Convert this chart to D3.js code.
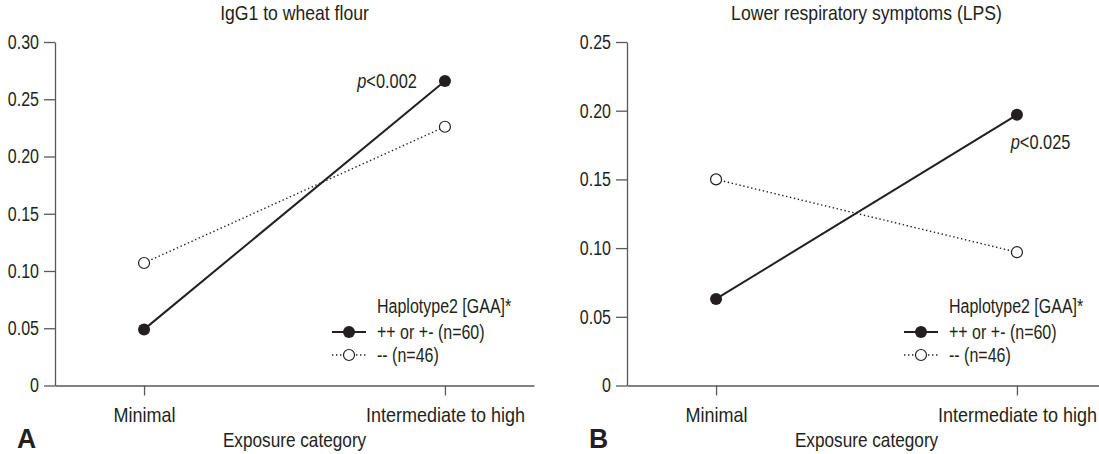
<!DOCTYPE html>
<html>
<head>
<meta charset="utf-8">
<script src="https://cdn.jsdelivr.net/npm/d3@7"></script>
<style>
  body { margin: 0; background: #fff; }
  svg text { font-family: "Liberation Sans", Arial, sans-serif; fill: #231f20; transform-box: fill-box; }
</style>
</head>
<body>
<svg id="chart" width="1099" height="454"></svg>
<script>
// exposure categories on x
const categories = ['Minimal', 'Intermediate to high']

// panel A: IgG1 to wheat flour
const igg1Hetero = [0.049, 0.266]   // ++ or +- (n=60)
const igg1Homo = [0.107, 0.226]     // -- (n=46)
const igg1Ticks = [0, 0.05, 0.10, 0.15, 0.20, 0.25, 0.30]

// panel B: lower respiratory symptoms
const lpsHetero = [0.063, 0.197]
const lpsHomo = [0.150, 0.097]
const lpsTicks = [0, 0.05, 0.10, 0.15, 0.20, 0.25]

const seriesNames = ['++ or +- (n=60)', '-- (n=46)']
const legendTitle = 'Haplotype2 [GAA]*'

const panels = [
  { letter: 'A', title: 'IgG1 to wheat flour', left: 55, hetero: igg1Hetero, homo: igg1Homo, ticks: igg1Ticks, pval: 'p<0.002' },
  { letter: 'B', title: 'Lower respiratory symptoms (LPS)', left: 627, hetero: lpsHetero, homo: lpsHomo, ticks: lpsTicks, pval: 'p<0.025' }
]

const svg = d3.select('#chart')
const plotTop = 42, plotBottom = 385.5, plotWidth = 479
const axisColor = '#58595b'
const ink = '#231f20'

// horizontal squeeze per kind of text, to mimic the condensed face
const squeeze = { tick: 0.8, cat: 0.9, title: 0.88, xtitle: 0.86, legend: 0.8, pval: 0.82, letter: 0.95 }

panels.forEach((p, i) => {
  const g = svg.append('g').attr('transform', `translate(${p.left},0)`)

  const x = d3.scalePoint().domain(categories).range([0, plotWidth]).padding(0.296)
  const y = d3.scaleLinear().domain([0, d3.max(p.ticks)]).range([plotBottom, plotTop])

  // y axis
  const yAxis = g.append('g')
    .call(d3.axisLeft(y).tickValues(p.ticks).tickSize(11).tickSizeOuter(0).tickPadding(5)
      .tickFormat(d => d === 0 ? '0' : d3.format('.2f')(d)))
  yAxis.selectAll('path, line').attr('stroke', axisColor).attr('stroke-width', 1.3)
  yAxis.selectAll('text').style('font-size', '20px').attr('fill', ink).attr('data-k', 'tick')

  // x axis
  const xAxis = g.append('g').attr('transform', `translate(0,${plotBottom})`)
    .call(d3.axisBottom(x).tickSize(10).tickSizeOuter(0).tickPadding(12))
  xAxis.selectAll('path, line').attr('stroke', axisColor).attr('stroke-width', 1.3)
  xAxis.selectAll('text').style('font-size', '20px').attr('fill', ink).attr('data-k', 'cat')

  // title
  g.append('text').attr('x', plotWidth / 2).attr('y', 20).attr('text-anchor', 'middle')
    .attr('data-k', 'title').style('font-size', '20px').text(p.title)

  // x axis title
  g.append('text').attr('x', plotWidth / 2).attr('y', 447).attr('text-anchor', 'middle')
    .attr('data-k', 'xtitle').style('font-size', '20px').text('Exposure category')

  // panel letter
  g.append('text').attr('x', -38).attr('y', 448).attr('data-k', 'letter')
    .style('font-size', '28px').style('font-weight', 'bold').text(p.letter)

  const line = d3.line().x((d, k) => x(categories[k])).y(d => y(d))

  // dotted series
  g.append('path').datum(p.homo).attr('d', line).attr('fill', 'none')
    .attr('stroke', ink).attr('stroke-width', 1.4).attr('stroke-dasharray', '1.4,2.6')
  // solid series
  g.append('path').datum(p.hetero).attr('d', line).attr('fill', 'none')
    .attr('stroke', ink).attr('stroke-width', 2)

  g.selectAll('.open').data(p.homo).join('circle')
    .attr('cx', (d, k) => x(categories[k])).attr('cy', d => y(d)).attr('r', 5.5)
    .attr('fill', '#fff').attr('stroke', ink).attr('stroke-width', 1.2)
  g.selectAll('.filled').data(p.hetero).join('circle')
    .attr('cx', (d, k) => x(categories[k])).attr('cy', d => y(d)).attr('r', 6)
    .attr('fill', ink)

  // p value label
  const px = x(categories[1]), py = y(p.hetero[1])
  const pt = g.append('text').attr('data-k', 'pval').style('font-size', '20px')
  if (i === 0) pt.attr('x', px - 28).attr('y', py + 7).attr('text-anchor', 'end')
  else pt.attr('x', px - 6).attr('y', py + 34).attr('text-anchor', 'start')
  pt.append('tspan').style('font-style', 'italic').text('p')
  pt.append('tspan').text(p.pval.slice(1))

  // legend
  const lg = g.append('g').attr('transform', 'translate(277,0)')
  lg.append('text').attr('x', 45).attr('y', 313).attr('data-k', 'legend').style('font-size', '20px').text(legendTitle)
  const rows = [{ name: seriesNames[0], y: 332, solid: true }, { name: seriesNames[1], y: 355, solid: false }]
  rows.forEach(r => {
    lg.append('line').attr('x1', 0).attr('x2', 34).attr('y1', r.y).attr('y2', r.y)
      .attr('stroke', ink).attr('stroke-width', r.solid ? 2 : 1.4)
      .attr('stroke-dasharray', r.solid ? null : '1.4,2.6')
    lg.append('circle').attr('cx', 17).attr('cy', r.y).attr('r', r.solid ? 6 : 5.5)
      .attr('fill', r.solid ? ink : '#fff').attr('stroke', ink).attr('stroke-width', r.solid ? 0 : 1.2)
    lg.append('text').attr('x', 45).attr('y', r.y + 7).attr('data-k', 'legend').style('font-size', '20px').text(r.name)
  })
})

svg.selectAll('text').each(function () {
  const anchor = getComputedStyle(this).textAnchor
  const origin = anchor === 'end' ? 'right' : (anchor === 'middle' ? 'center' : 'left')
  this.style.transformOrigin = origin + ' bottom'
  this.style.transform = `scaleX(${squeeze[this.getAttribute('data-k')] || 0.85})`
})
</script>
</body>
</html>
